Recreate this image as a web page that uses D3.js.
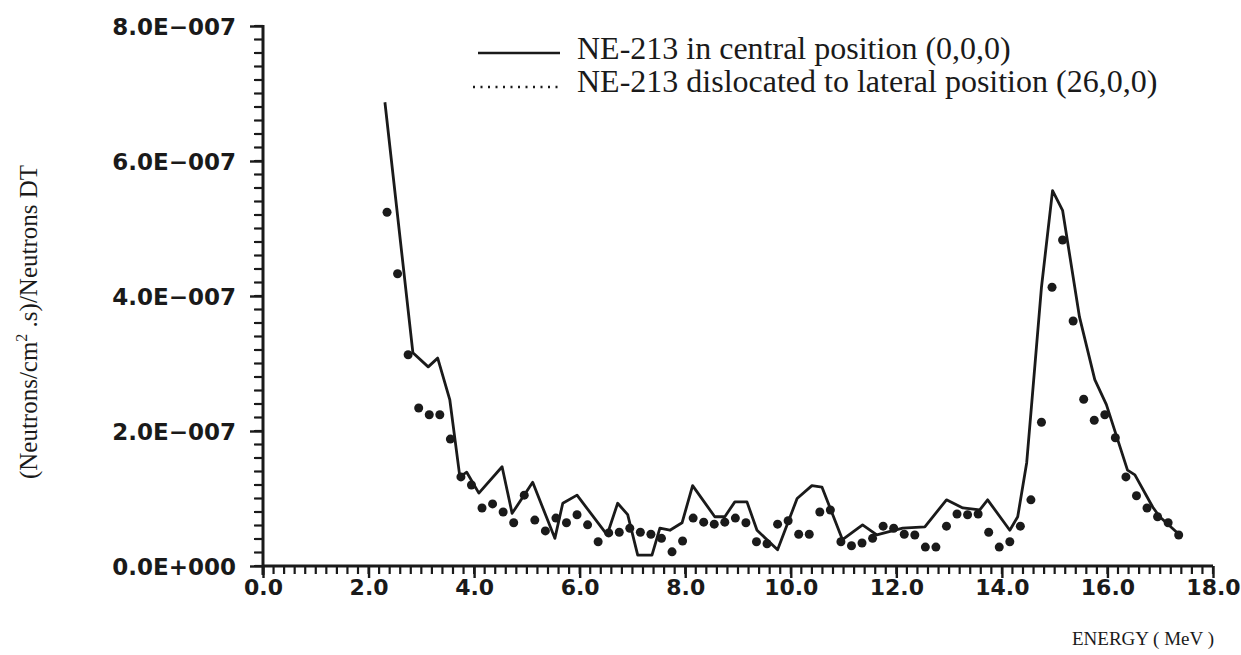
<!DOCTYPE html>
<html>
<head>
<meta charset="utf-8">
<script src="https://cdn.jsdelivr.net/npm/d3@7"></script>
<style>
  body { margin: 0; background: #fff; }
  .ytick text { font-family: "DejaVu Sans", sans-serif; font-weight: bold; font-size: 23px; fill: #1a1a1a; }
  .xtick text { font-family: "DejaVu Sans", sans-serif; font-weight: bold; font-size: 22px; fill: #1a1a1a; }
  .serif { font-family: "Liberation Serif", "Times New Roman", serif; fill: #1a1a1a; }
</style>
</head>
<body>
<div id="chart"></div>
<script>
// Data (values in 1E-007 units)
var centralEnergy = [2.31, 2.84, 3.13, 3.31, 3.54, 3.73, 3.86, 4.09, 4.53, 4.72, 5.11, 5.53, 5.68, 5.95,
    6.52, 6.72, 6.91, 7.10, 7.37, 7.52, 7.71, 7.94, 8.14, 8.56, 8.75, 8.94, 9.17, 9.36, 9.75,
    10.12, 10.40, 10.59, 10.98, 11.36, 11.63, 12.12, 12.54, 12.95, 13.26, 13.58, 13.73, 14.15,
    14.30, 14.47, 14.56, 14.75, 14.96, 15.15, 15.47, 15.76, 15.98, 16.38, 16.52, 16.86, 16.99, 17.37];
var centralValue = [6.87, 3.16, 2.95, 3.08, 2.46, 1.32, 1.39, 1.08, 1.47, 0.78, 1.24, 0.41, 0.93, 1.05,
    0.46, 0.93, 0.76, 0.16, 0.16, 0.56, 0.53, 0.64, 1.19, 0.73, 0.73, 0.95, 0.95, 0.53, 0.24,
    1.00, 1.19, 1.17, 0.39, 0.61, 0.46, 0.56, 0.58, 0.98, 0.86, 0.83, 0.98, 0.53,
    0.73, 1.53, 2.36, 4.13, 5.56, 5.27, 3.69, 2.76, 2.39, 1.42, 1.35, 0.87, 0.73, 0.46];

var lateralEnergy = [2.35, 2.55, 2.75, 2.95, 3.15, 3.35, 3.55, 3.75, 3.95, 4.15, 4.35, 4.55, 4.75, 4.95,
    5.15, 5.35, 5.55, 5.75, 5.95, 6.15, 6.35, 6.55, 6.75, 6.95, 7.15, 7.35, 7.55, 7.75, 7.95,
    8.15, 8.35, 8.55, 8.75, 8.95, 9.15, 9.35, 9.55, 9.75, 9.95, 10.15, 10.35, 10.55, 10.75, 10.95,
    11.15, 11.35, 11.55, 11.75, 11.95, 12.15, 12.35, 12.55, 12.75, 12.95, 13.15, 13.35, 13.55, 13.75,
    13.95, 14.15, 14.35, 14.55, 14.75, 14.95, 15.15, 15.35, 15.55, 15.75, 15.95, 16.15, 16.35, 16.55,
    16.75, 16.95, 17.15, 17.35];
var lateralValue = [5.24, 4.33, 3.13, 2.34, 2.24, 2.24, 1.88, 1.32, 1.20, 0.86, 0.92, 0.80, 0.64, 1.05,
    0.68, 0.52, 0.71, 0.64, 0.76, 0.61, 0.36, 0.49, 0.50, 0.56, 0.50, 0.47, 0.41, 0.21, 0.37,
    0.71, 0.65, 0.62, 0.65, 0.71, 0.64, 0.36, 0.33, 0.62, 0.67, 0.47, 0.47, 0.80, 0.83, 0.36,
    0.30, 0.34, 0.41, 0.59, 0.56, 0.47, 0.46, 0.28, 0.28, 0.59, 0.77, 0.76, 0.77, 0.50,
    0.28, 0.36, 0.59, 0.98, 2.13, 4.13, 4.83, 3.63, 2.47, 2.16, 2.24, 1.90, 1.32, 1.04,
    0.86, 0.73, 0.64, 0.46];

var xTickValues = [0, 2, 4, 6, 8, 10, 12, 14, 16, 18];
var xTickLabels = ["0.0", "2.0", "4.0", "6.0", "8.0", "10.0", "12.0", "14.0", "16.0", "18.0"];
var yTickValues = [0, 2e-7, 4e-7, 6e-7, 8e-7];
var yTickLabels = ["0.0E+000", "2.0E\u2212007", "4.0E\u2212007", "6.0E\u2212007", "8.0E\u2212007"];
var legendLabels = ["NE-213 in central position (0,0,0)", "NE-213 dislocated to lateral position (26,0,0)"];

// Step 1: svg and scales
//= ================================
var svgWidth = 1241;
var svgHeight = 655;

var svg = d3.select("#chart")
    .append("svg")
    .attr("width", svgWidth)
    .attr("height", svgHeight);

var xScale = d3.scaleLinear().domain([0, 18]).range([263, 1213]);
var yScale = d3.scaleLinear().domain([0, 8e-7]).range([566, 26]);

var ink = "#1a1a1a";

// Step 2: axes
//= ================================
var xAxis = svg.append("g")
    .attr("class", "xtick")
    .attr("transform", "translate(0," + yScale(0) + ")")
    .call(d3.axisBottom(xScale)
        .tickValues(xTickValues)
        .tickSize(12)
        .tickPadding(1)
        .tickFormat(function(d, i) { return xTickLabels[i]; }));

var yAxis = svg.append("g")
    .attr("class", "ytick")
    .attr("transform", "translate(" + xScale(0) + ",0)")
    .call(d3.axisLeft(yScale)
        .tickValues(yTickValues)
        .tickSize(13)
        .tickPadding(14)
        .tickFormat(function(d, i) { return yTickLabels[i]; }));

svg.selectAll(".domain").remove();
svg.selectAll(".tick line").attr("stroke", ink).attr("stroke-width", 2.4);
svg.selectAll(".ytick .tick text").attr("dy", "0.38em");

// axis lines drawn by hand so they are thick like the print
svg.append("line")
    .attr("x1", xScale(0)).attr("x2", xScale(18))
    .attr("y1", yScale(0)).attr("y2", yScale(0))
    .attr("stroke", ink).attr("stroke-width", 3);
svg.append("line")
    .attr("x1", xScale(0)).attr("x2", xScale(0))
    .attr("y1", yScale(8e-7) - 1).attr("y2", yScale(0) + 9)
    .attr("stroke", ink).attr("stroke-width", 3);

// minor ticks every 0.2 MeV and every 2E-008
var xMinor = d3.range(0, 91).map(function(i) { return i * 0.2; });
var yMinor = d3.range(0, 41).map(function(i) { return i * 2e-8; });

svg.selectAll(".xminor")
    .data(xMinor)
    .enter()
    .append("line")
    .attr("class", "xminor")
    .attr("x1", function(d) { return xScale(d); })
    .attr("x2", function(d) { return xScale(d); })
    .attr("y1", yScale(0))
    .attr("y2", yScale(0) + 8)
    .attr("stroke", ink)
    .attr("stroke-width", 2.2);

svg.selectAll(".yminor")
    .data(yMinor)
    .enter()
    .append("line")
    .attr("class", "yminor")
    .attr("x1", xScale(0) - 9)
    .attr("x2", xScale(0))
    .attr("y1", function(d) { return yScale(d); })
    .attr("y2", function(d) { return yScale(d); })
    .attr("stroke", ink)
    .attr("stroke-width", 2.2);

// axis titles
svg.append("text")
    .attr("class", "serif")
    .attr("transform", "translate(37,322) rotate(-90)")
    .attr("text-anchor", "middle")
    .style("font-size", "25px")
    .html("(Neutrons/cm<tspan dy='-10' font-size='16px'>2</tspan><tspan dy='10'> .s)/Neutrons DT</tspan>");

svg.append("text")
    .attr("class", "serif")
    .attr("x", 1143)
    .attr("y", 645)
    .attr("text-anchor", "middle")
    .style("font-size", "19px")
    .text("ENERGY ( MeV )");

// Step 3: the series
//= ================================
var centralData = centralEnergy.map(function(e, i) { return { e: e, v: centralValue[i] * 1e-7 }; });
var lateralData = lateralEnergy.map(function(e, i) { return { e: e, v: lateralValue[i] * 1e-7 }; });

var line = d3.line()
    .x(function(d) { return xScale(d.e); })
    .y(function(d) { return yScale(d.v); });

svg.append("path")
    .datum(centralData)
    .attr("d", line)
    .attr("fill", "none")
    .attr("stroke", ink)
    .attr("stroke-width", 2.8)
    .attr("stroke-linejoin", "round");

svg.selectAll(".dot")
    .data(lateralData)
    .enter()
    .append("circle")
    .attr("class", "dot")
    .attr("r", 4.5)
    .attr("cx", function(d) { return xScale(d.e); })
    .attr("cy", function(d) { return yScale(d.v); })
    .attr("fill", ink);

// Step 4: legend
//= ================================
svg.append("line")
    .attr("x1", 478).attr("x2", 560)
    .attr("y1", 53).attr("y2", 53)
    .attr("stroke", ink).attr("stroke-width", 2.6);
svg.append("line")
    .attr("x1", 473).attr("x2", 558)
    .attr("y1", 87).attr("y2", 87)
    .attr("stroke", ink).attr("stroke-width", 2.6)
    .attr("stroke-dasharray", "2,5.5");

svg.selectAll(".legend-text")
    .data(legendLabels)
    .enter()
    .append("text")
    .attr("class", "serif legend-text")
    .attr("x", 577)
    .attr("y", function(d, i) { return 59 + i * 33; })
    .style("font-size", "32px")
    .text(function(d) { return d; });
</script>
</body>
</html>
